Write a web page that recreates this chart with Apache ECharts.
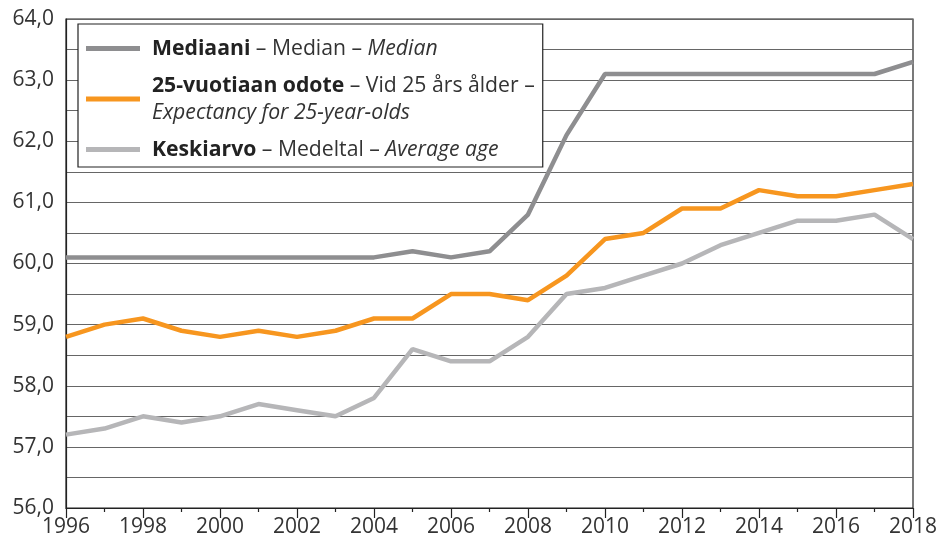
<!DOCTYPE html>
<html>
<head>
<meta charset="utf-8">
<script src="https://cdn.jsdelivr.net/npm/echarts@6/dist/echarts.min.js"></script>
<style>
  html, body { margin: 0; padding: 0; background: #fff; }
  #chart { width: 937px; height: 546px; }
</style>
</head>
<body>
<div id="chart"></div>
<script>
const years = [1996, 1997, 1998, 1999, 2000, 2001, 2002, 2003, 2004, 2005, 2006, 2007,
  2008, 2009, 2010, 2011, 2012, 2013, 2014, 2015, 2016, 2017, 2018]

const median = [60.1, 60.1, 60.1, 60.1, 60.1, 60.1, 60.1, 60.1, 60.1, 60.2, 60.1, 60.2,
  60.8, 62.1, 63.1, 63.1, 63.1, 63.1, 63.1, 63.1, 63.1, 63.1, 63.3]

const expectancy25 = [58.8, 59.0, 59.1, 58.9, 58.8, 58.9, 58.8, 58.9, 59.1, 59.1, 59.5, 59.5,
  59.4, 59.8, 60.4, 60.5, 60.9, 60.9, 61.2, 61.1, 61.1, 61.2, 61.3]

const average = [57.2, 57.3, 57.5, 57.4, 57.5, 57.7, 57.6, 57.5, 57.8, 58.6, 58.4, 58.4,
  58.8, 59.5, 59.6, 59.8, 60.0, 60.3, 60.5, 60.7, 60.7, 60.8, 60.4]

const names = ['Mediaani', '25-vuotiaan odote', 'Keskiarvo']
const legendText = {
  'Mediaani': '{b|Mediaani} – Median – {i|Median}',
  '25-vuotiaan odote': '{b|25-vuotiaan odote} – Vid 25 års ålder –\n{i|Expectancy for 25-year-olds}',
  'Keskiarvo': '{b|Keskiarvo} – Medeltal – {i|Average age}'
}

const font = 'Open Sans'
const textColor = '#333'
const legendSize = 21.2

const pairs = vals => years.map((y, i) => [y, vals[i]])

const chart = echarts.init(document.getElementById('chart'))

function lineSeries(name, vals, color) {
  return {
    name: name,
    type: 'line',
    data: pairs(vals),
    symbol: 'none',
    lineStyle: { color: color, width: 4.5 },
    itemStyle: { color: color }
  }
}

chart.setOption({
  animation: false,
  grid: {
    left: 66, right: 24, top: 19, bottom: 38,
    outerBoundsMode: 'none',
    show: true, borderColor: '#222', borderWidth: 1.2
  },
  legend: {
    orient: 'vertical',
    left: 78, top: 24,
    padding: [11, 8, 4, 8],
    itemGap: 10,
    itemWidth: 54,
    itemHeight: 5,
    icon: 'rect',
    backgroundColor: '#fff',
    borderColor: '#222',
    borderWidth: 1.2,
    data: names,
    formatter: n => legendText[n],
    textStyle: {
      fontFamily: font, fontSize: legendSize, color: textColor, lineHeight: 27,
      padding: [0, 0, 0, 7],
      rich: {
        b: { fontFamily: font, fontSize: legendSize, fontWeight: 'bold', color: '#222', lineHeight: 27 },
        i: { fontFamily: font, fontSize: legendSize, fontStyle: 'italic', color: textColor, lineHeight: 27 }
      }
    }
  },
  xAxis: {
    type: 'value',
    min: 1996, max: 2018, interval: 2,
    axisLine: { lineStyle: { color: '#222', width: 1.2 } },
    axisTick: { show: true, length: 10, lineStyle: { color: '#222', width: 1.2 } },
    minorTick: { show: true, splitNumber: 2, length: 4, lineStyle: { color: '#222', width: 1.2 } },
    splitLine: { show: false },
    axisLabel: {
      margin: 9,
      fontFamily: font, fontSize: 21, color: textColor,
      formatter: v => String(v)
    }
  },
  yAxis: {
    type: 'value',
    min: 56, max: 64, interval: 0.5,
    axisLine: { show: true, lineStyle: { color: '#222', width: 1.2 } },
    axisTick: { show: false },
    splitLine: { lineStyle: { color: '#666', width: 1.2 } },
    axisLabel: {
      margin: 12,
      fontFamily: font, fontSize: 21, color: textColor,
      formatter: v => (Math.abs(v - Math.round(v)) < 1e-6 ? v.toFixed(1).replace('.', ',') : '')
    }
  },
  series: [
    lineSeries(names[0], median, '#8e8e90'),
    lineSeries(names[1], expectancy25, '#f7961f'),
    lineSeries(names[2], average, '#b6b6b8')
  ]
})
</script>
</body>
</html>
